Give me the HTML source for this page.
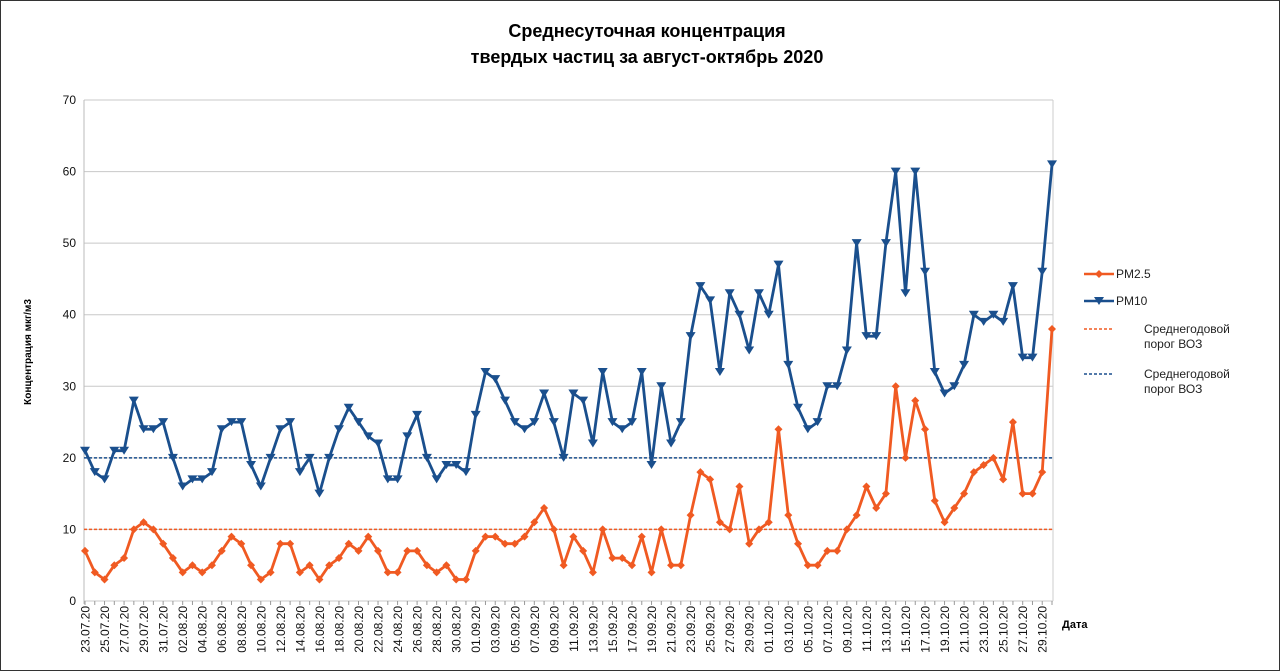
<!DOCTYPE html>
<html><head><meta charset="utf-8"><style>
body{margin:0;background:#fff;}
svg{display:block;font-family:"Liberation Sans","DejaVu Sans",sans-serif;}
</style></head><body>
<svg id="c" width="1280" height="671" viewBox="0 0 1280 671" xmlns="http://www.w3.org/2000/svg">
<rect x="0.5" y="0.5" width="1279" height="670" fill="#fff" stroke="#333"/>
<text x="647" y="37" font-size="18" font-weight="bold" text-anchor="middle">Среднесуточная концентрация</text>
<text x="647" y="63" font-size="18" font-weight="bold" text-anchor="middle">твердых частиц за август-октябрь 2020</text>
<text transform="translate(31,352) rotate(-90)" font-size="10" font-weight="bold" text-anchor="middle">Концентрация мкг/м3</text>
<text x="1062" y="628" font-size="11" font-weight="bold">Дата</text>
<g id="g"></g>
<g font-size="12" fill="#222">
<line x1="1084" y1="274" x2="1114" y2="274" stroke="#f05a22" stroke-width="2.5"/><path d="M1099 270l4 4-4 4-4-4z" fill="#f05a22"/>
<text x="1116" y="278">PM2.5</text>
<line x1="1084" y1="301" x2="1114" y2="301" stroke="#1a4f8d" stroke-width="2.5"/><path d="M1094 297h10l-5 8z" fill="#1a4f8d"/>
<text x="1116" y="305">PM10</text>
<line x1="1084" y1="329" x2="1114" y2="329" stroke="#f05a22" stroke-width="1.5" stroke-dasharray="3,2"/>
<text x="1144" y="333">Среднегодовой</text><text x="1144" y="348">порог ВОЗ</text>
<line x1="1084" y1="374" x2="1114" y2="374" stroke="#1a4f8d" stroke-width="1.5" stroke-dasharray="3,2"/>
<text x="1144" y="378">Среднегодовой</text><text x="1144" y="393">порог ВОЗ</text>
</g>
</svg>
<script>
var pm10=[21,18,17,21,21,28,24,24,25,20,16,17,17,18,24,25,25,19,16,20,24,25,18,20,15,20,24,27,25,23,22,17,17,23,26,20,17,19,19,18,26,32,31,28,25,24,25,29,25,20,29,28,22,32,25,24,25,32,19,30,22,25,37,44,42,32,43,40,35,43,40,47,33,27,24,25,30,30,35,50,37,37,50,60,43,60,46,32,29,30,33,40,39,40,39,44,34,34,46,61];
var pm25=[7,4,3,5,6,10,11,10,8,6,4,5,4,5,7,9,8,5,3,4,8,8,4,5,3,5,6,8,7,9,7,4,4,7,7,5,4,5,3,3,7,9,9,8,8,9,11,13,10,5,9,7,4,10,6,6,5,9,4,10,5,5,12,18,17,11,10,16,8,10,11,24,12,8,5,5,7,7,10,12,16,13,15,30,20,28,24,14,11,13,15,18,19,20,17,25,15,15,18,38];
var X0=85,DX=(1052-85)/99,Y0=601,K=(601-100)/70;
function X(i){return X0+DX*i} function Y(v){return Y0-v*K}
var s='';
for(var v=0;v<=70;v+=10){var y=Y(v);s+='<line x1="84" x2="1053" y1="'+y+'" y2="'+y+'" stroke="#c8c8c8"/>';s+='<text x="76" y="'+(y+4)+'" font-size="12" text-anchor="end" fill="#111">'+v+'</text>';}
s+='<line x1="84" x2="84" y1="100" y2="604" stroke="#bbb"/><line x1="1053" x2="1053" y1="100" y2="601" stroke="#ccc"/>';
var d=new Date(2020,6,23);
for(var i=0;i<100;i++){var x=X(i);s+='<line x1="'+x+'" x2="'+x+'" y1="601" y2="605" stroke="#999"/>';
 if(i%2==0){var dd=('0'+d.getDate()).slice(-2),mm=('0'+(d.getMonth()+1)).slice(-2);
 s+='<text transform="translate('+(x+4.5)+',606) rotate(-90)" font-size="12" text-anchor="end" fill="#111">'+dd+'.'+mm+'.20</text>';}
 d.setDate(d.getDate()+1);}
s+='<line x1="84" x2="1053" y1="'+Y(10)+'" y2="'+Y(10)+'" stroke="#f05a22" stroke-width="1.5" stroke-dasharray="3,2"/>';
s+='<line x1="84" x2="1053" y1="'+Y(20)+'" y2="'+Y(20)+'" stroke="#1a4f8d" stroke-width="1.5" stroke-dasharray="3,2"/>';
function line(a,c){return '<polyline fill="none" stroke="'+c+'" stroke-width="2.8" stroke-linejoin="round" points="'+a.map(function(v,i){return X(i).toFixed(1)+','+Y(v).toFixed(1)}).join(' ')+'"/>';}
s+=line(pm10,'#1a4f8d');
pm10.forEach(function(v,i){var x=X(i),y=Y(v);s+='<path d="M'+(x-5)+' '+(y-4)+'h10l-5 8z" fill="#1a4f8d"/>';});
s+=line(pm25,'#f05a22');
pm25.forEach(function(v,i){var x=X(i),y=Y(v);s+='<path d="M'+x+' '+(y-4)+'l4 4-4 4-4-4z" fill="#f05a22"/>';});
document.getElementById('g').innerHTML=s;
</script>
</body></html>
